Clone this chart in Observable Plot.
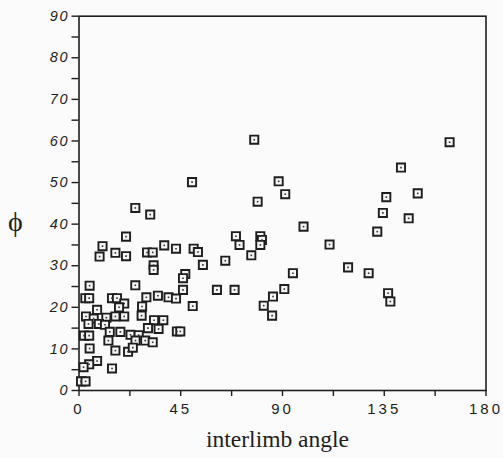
<!DOCTYPE html>
<html>
<head>
<meta charset="utf-8">
<script src="https://cdn.jsdelivr.net/npm/d3@7"></script>
<script src="https://cdn.jsdelivr.net/npm/@observablehq/plot@0.6"></script>
<style>
  html, body { margin: 0; padding: 0; background: #fbfbfb; }
  #chart svg { display: block; background: transparent; }
  #chart g[aria-label="y-axis tick label"] text { letter-spacing: 1.5px; }
  #chart g[aria-label="x-axis tick label"] text { letter-spacing: 3px; }
</style>
</head>
<body>
<div id="chart"></div>
<script>
// interlimb angle (x) and phi (y) values
const interlimbAngle = [
  77.5, 163.9, 142.4, 50.0, 88.3, 91.2, 149.8, 135.9, 79.0, 24.9,
  31.5, 134.4, 145.8, 99.3, 131.9, 20.8, 69.4, 80.2, 80.9, 71.0,
  80.2, 110.8, 10.4, 37.7, 42.9, 50.7, 52.6, 16.1, 30.1, 32.6,
  9.1, 20.8, 76.2, 64.7, 54.8, 33.0, 33.0, 119.0, 94.6, 128.1,
  47.0, 46.0, 4.7, 24.9, 46.0, 61.0, 68.8, 90.8, 136.7, 85.8,
  34.9, 29.8, 39.6, 42.9, 2.8, 4.5, 14.6, 16.8, 137.7, 20.0,
  17.7, 8.0, 27.9, 50.3, 81.7, 85.4, 3.1, 6.5, 12.1, 16.1,
  20.0, 27.7, 4.2, 8.8, 11.5, 33.2, 37.3, 35.2, 30.5, 43.3,
  44.8, 13.6, 18.3, 22.8, 26.4, 2.2, 4.5, 25.0, 29.3, 32.6,
  13.0, 4.7, 16.1, 21.7, 23.8, 8.0, 4.5, 2.0, 14.6, 0.9, 2.9
];
const phi = [
  60.3, 59.7, 53.6, 50.1, 50.3, 47.2, 47.4, 46.5, 45.4, 43.9,
  42.3, 42.7, 41.4, 39.4, 38.2, 37.0, 37.1, 37.1, 36.2, 35.0,
  35.0, 35.1, 34.7, 34.9, 34.1, 34.1, 33.3, 33.1, 33.2, 33.2,
  32.2, 32.3, 32.5, 31.2, 30.2, 30.1, 29.0, 29.6, 28.2, 28.2,
  28.0, 27.0, 25.2, 25.3, 24.2, 24.2, 24.2, 24.4, 23.4, 22.6,
  22.8, 22.4, 22.4, 22.1, 22.2, 22.2, 22.2, 22.2, 21.4, 20.9,
  20.0, 19.4, 20.2, 20.3, 20.4, 18.0, 17.8, 17.3, 17.5, 17.8,
  17.8, 18.0, 16.0, 16.0, 15.8, 16.9, 16.9, 14.8, 15.0, 14.2,
  14.2, 14.1, 14.1, 13.4, 13.3, 13.2, 13.2, 12.0, 12.0, 11.6,
  12.0, 10.1, 9.6, 9.3, 10.3, 7.1, 6.3, 5.6, 5.3, 2.2, 2.2
];

// axis ticks
const xTickLabels = [0, 45, 90, 135, 180];
const xTickMarks = [0, 22.5, 45, 67.5, 90, 112.5, 135, 157.5, 180];
const yTickLabels = [0, 10, 20, 30, 40, 50, 60, 70, 80, 90];
const yTickMarks = [0, 5, 10, 15, 20, 25, 30, 35, 40, 45, 50, 55, 60, 65, 70, 75, 80, 85, 90];
const xTitle = "interlimb angle";
const yTitle = "\u03D5";

const data = interlimbAngle.map((x, i) => ({x, y: phi[i]}));

const ink = "#1e1e1e";
const chart = Plot.plot({
  width: 503,
  height: 458,
  marginLeft: 78.5,
  marginRight: 17.5,
  marginTop: 15.7,
  marginBottom: 68,
  style: {fontFamily: "'Liberation Sans', Arial, sans-serif", background: "transparent", color: ink},
  x: {domain: [0, 180]},
  y: {domain: [0, 90]},
  marks: [
    Plot.axisX({ticks: xTickMarks, tickFormat: d => xTickLabels.includes(d) ? String(d) : "", tickSize: 6, tickPadding: 7, fontSize: 15, fill: ink, stroke: ink, strokeWidth: 1.4, label: null}),
    Plot.axisY({ticks: yTickMarks, tickFormat: d => yTickLabels.includes(d) ? String(d) : "", tickSize: 7, tickPadding: 3, fontSize: 14.5, fontStyle: "italic", fill: ink, stroke: ink, strokeWidth: 1.4, label: null}),
    Plot.frame({stroke: ink, strokeWidth: 1.6}),
    Plot.dot(data, {x: "x", y: "y", symbol: "square", r: 4.6, stroke: ink, strokeWidth: 1.9, fill: "#f4f4f4"}),
    Plot.dot(data, {x: "x", y: "y", symbol: "square", r: 0.9, fill: "#333", stroke: "none"}),
    Plot.text([xTitle], {frameAnchor: "bottom", dx: -5, dy: 56, fontSize: 23.5, fontFamily: "'Liberation Serif', 'Times New Roman', serif", fill: ink}),
    Plot.text([yTitle], {frameAnchor: "left", dx: -71, dy: 19, fontSize: 28, fontFamily: "'Liberation Serif', 'DejaVu Serif', serif", fill: ink})
  ]
});
document.getElementById("chart").append(chart);
</script>
</body>
</html>
